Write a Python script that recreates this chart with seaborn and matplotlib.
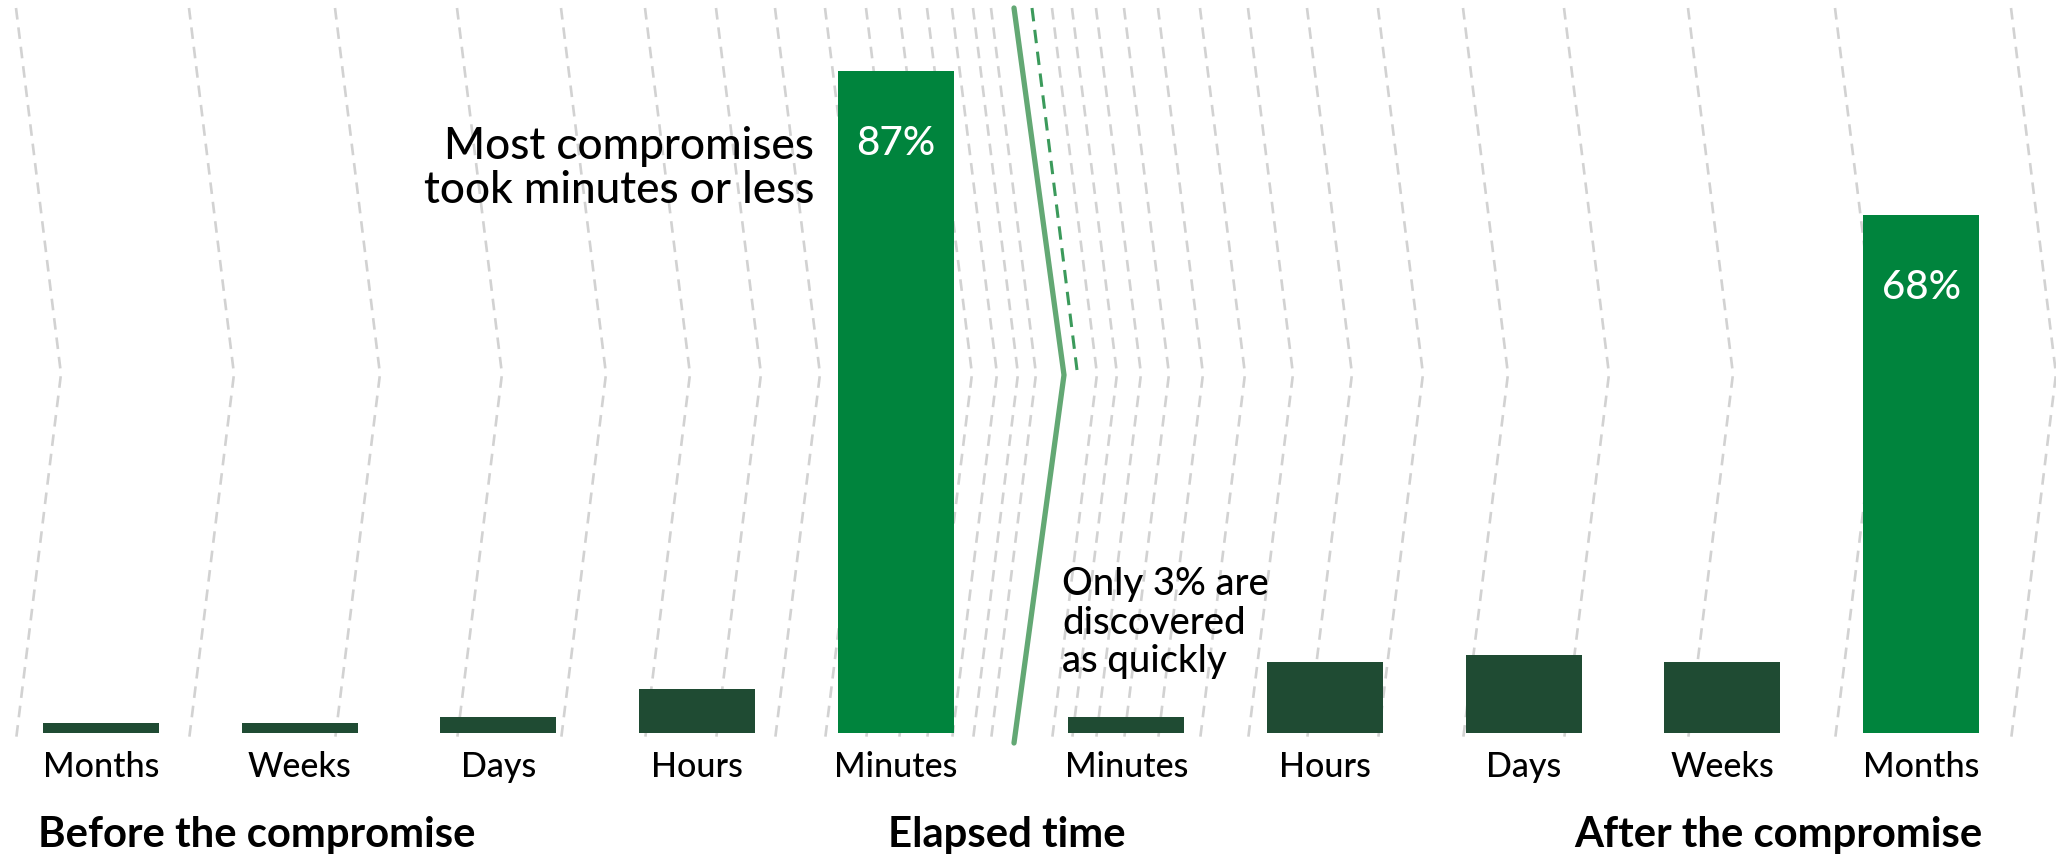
import numpy as np
import pandas as pd
import matplotlib
matplotlib.use("Agg")
import matplotlib.pyplot as plt
import seaborn as sns

# ---------------- data ----------------
before_periods = ["Months", "Weeks", "Days", "Hours", "Minutes"]
before_values = [1.3, 1.3, 2.1, 5.7, 87]
after_periods = ["Minutes", "Hours", "Days", "Weeks", "Months"]
after_values = [2.1, 9.3, 10.2, 9.3, 68]
highlight_labels = {87: "87%", 68: "68%"}

section_titles = ["Before the compromise", "Elapsed time", "After the compromise"]
note_left = "Most compromises\ntook minutes or less"
note_right = "Only 3% are\ndiscovered\nas quickly"

# decorative chevron tops (pixel x positions)
chevrons_left = [16, 189, 335, 457, 561, 645, 716, 775, 825, 866, 899, 927, 952, 973, 991]
chevrons_right = [1052, 1072, 1096, 1124, 1158, 1200, 1248, 1307, 1378, 1463, 1564, 1688, 1835, 2011]

# ---------------- style ----------------
sns.set_theme(style="white")
plt.rcParams["font.family"] = ["Lato", "DejaVu Sans"]

BRIGHT = "#00843D"
DARK = "#1F4B33"
GRAY = "#D2D2D2"
LINE_GREEN = "#63A874"
DASH_GREEN = "#3B9A5B"
REG = "medium"

W, H = 2056, 858
fig = plt.figure(figsize=(W / 100, H / 100), dpi=100)

# background overlay in pixel coordinates
bg = fig.add_axes([0, 0, 1, 1], zorder=0)
bg.set_xlim(0, W)
bg.set_ylim(H, 0)
bg.axis("off")

y_top, y_apex, y_bot = 8, 374, 740
for x0 in chevrons_left + chevrons_right:
    bg.plot([x0, x0 + 45, x0], [y_top, y_apex, y_bot], color=GRAY, lw=1.9,
            dashes=(4.4, 3.0), solid_capstyle="butt", dash_capstyle="butt")

# break line
bg.plot([1014, 1064, 1014], [y_top, 375, 743], color=LINE_GREEN, lw=3.8,
        solid_joinstyle="miter")
bg.plot([1032, 1077], [y_top, 370], color=DASH_GREEN, lw=2.2, dashes=(4.4, 2.8))

# ---------------- bars ----------------
baseline_px = 732.7
px_per_pct = 7.61
slot_px = 198.7
first_center_px = 101
gap_slots = 1.16

pos_before = list(range(len(before_periods)))
pos_after = [len(before_periods) - 1 + gap_slots + i for i in range(len(after_periods))]

df = pd.DataFrame({
    "pos": pos_before + pos_after,
    "period": before_periods + after_periods,
    "value": before_values + after_values,
})
df["kind"] = np.where(df["value"].isin(list(highlight_labels.keys())), "peak", "other")

ax = fig.add_axes([0, (H - baseline_px) / H, 1, baseline_px / H], zorder=1)
ax.patch.set_alpha(0)

sns.barplot(data=df, x="pos", y="value", hue="kind",
            palette={"peak": BRIGHT, "other": DARK},
            native_scale=True, dodge=False, width=0.584, saturation=1,
            legend=False, ax=ax, errorbar=None, linewidth=0)

ax.set_xlim(-first_center_px / slot_px, (W - first_center_px) / slot_px)
ax.set_ylim(0, baseline_px / px_per_pct)
ax.set_xticks(df["pos"].tolist(), df["period"].tolist())
for lab in ax.get_xticklabels():
    lab.set_fontweight(REG)
ax.set_yticks([])
ax.set_xlabel("")
ax.set_ylabel("")
ax.tick_params(axis="x", length=0, pad=13, labelsize=24.5, colors="black")
for s in ax.spines.values():
    s.set_visible(False)

for _, r in df.iterrows():
    if r["value"] in highlight_labels:
        ax.annotate(highlight_labels[r["value"]], (r["pos"], r["value"]),
                    xytext=(0, -60.5), textcoords="offset points",
                    ha="center", va="baseline", color="white", fontsize=29,
                    fontweight=REG)

# ---------------- annotations ----------------
bg.text(814, 203, note_left, ha="right", va="baseline", fontsize=31.8,
        color="black", linespacing=1.08, fontweight=REG)
bg.text(1062, 672, note_right, ha="left", va="baseline", fontsize=27.5,
        color="black", linespacing=1.12, fontweight=REG)

bg.text(38, 847, section_titles[0], ha="left", va="baseline", fontsize=30.2,
        fontweight="bold", color="black")
bg.text(1007, 847, section_titles[1], ha="center", va="baseline", fontsize=30.2,
        fontweight="bold", color="black")
bg.text(1982, 847, section_titles[2], ha="right", va="baseline", fontsize=30.2,
        fontweight="bold", color="black")

fig.savefig("out.png", dpi=100)
